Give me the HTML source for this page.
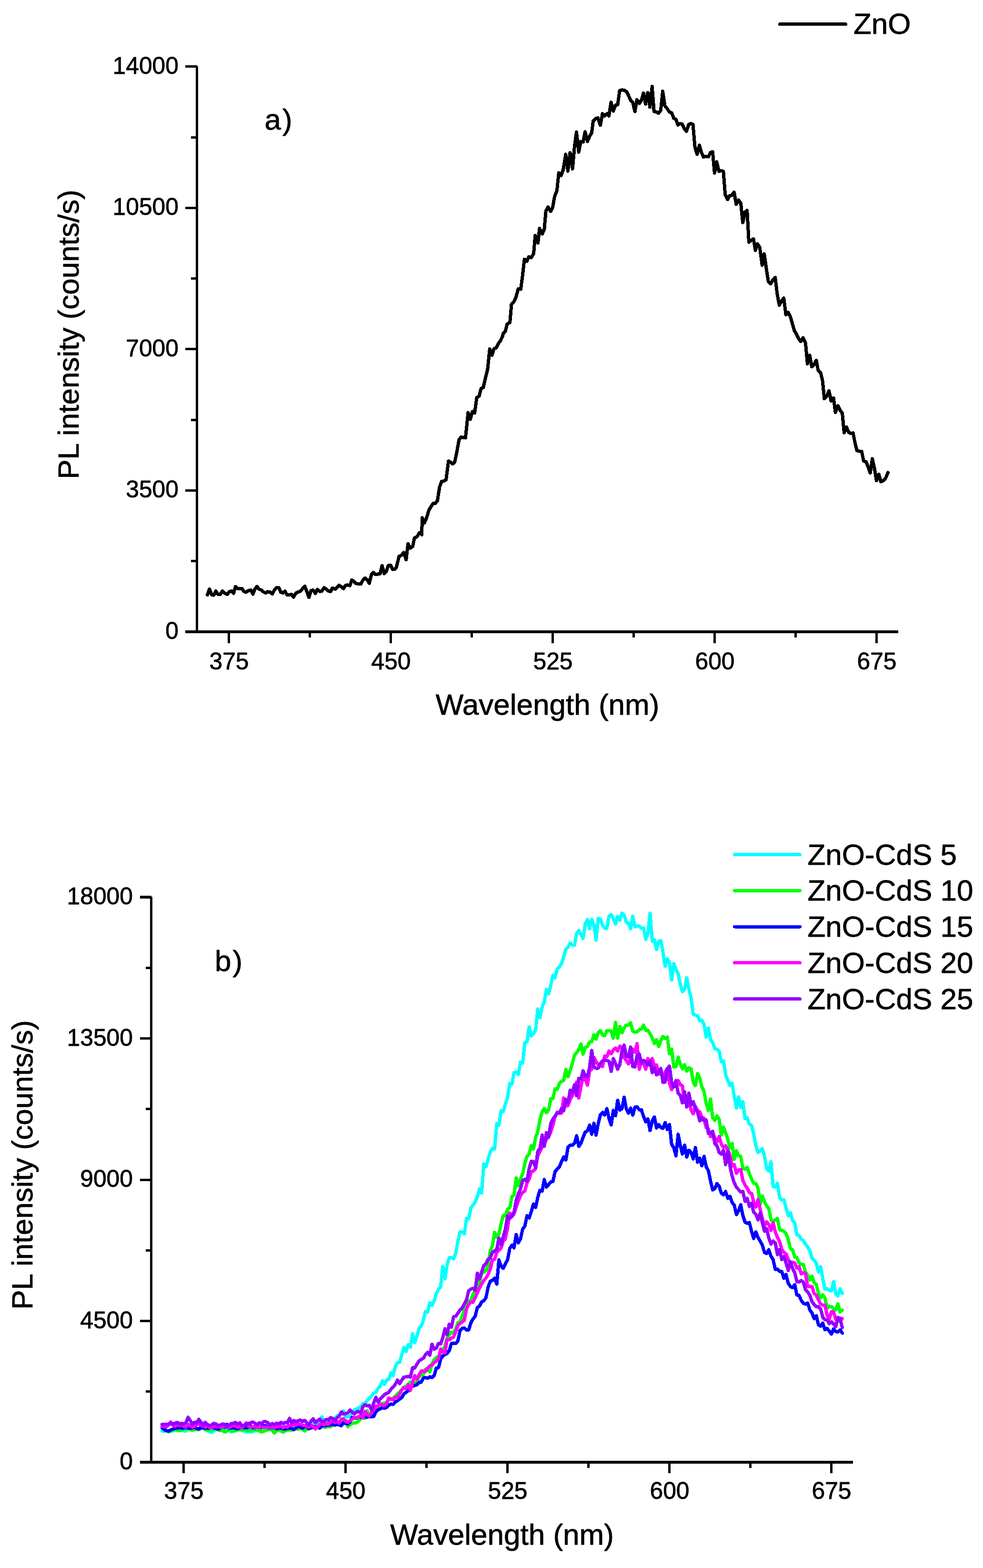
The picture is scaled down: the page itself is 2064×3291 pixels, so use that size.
<!DOCTYPE html>
<html lang="en"><head><meta charset="utf-8"><title>PL spectra of ZnO and ZnO-CdS</title>
<style>
html,body{margin:0;padding:0;background:#fff;}
body{width:2064px;height:3291px;overflow:hidden;font-family:'Liberation Sans', sans-serif;}
svg{display:block;}
</style></head>
<body>
<svg width="2064" height="3291" viewBox="0 0 2064 3291" font-family='"Liberation Sans", sans-serif' fill="#000">
<rect width="2064" height="3291" fill="#fff"/>
<g id="chart-a">
<polyline points="435.5,1248.5 439.8,1236.5 444.8,1248.5 448.8,1249.4 453.3,1240.5 457.7,1247.5 462.1,1247.5 467.0,1240.5 472.0,1245.1 477.1,1247.5 481.9,1241.5 486.5,1240.5 490.4,1245.5 494.4,1231.2 499.4,1235.6 503.7,1235.6 508.3,1235.6 512.3,1241.5 516.6,1243.1 521.6,1239.5 527.1,1238.5 531.1,1247.1 535.5,1235.6 539.6,1231.2 544.0,1236.5 549.0,1238.5 553.3,1242.5 557.9,1244.5 561.9,1241.9 566.8,1242.5 571.8,1246.5 576.7,1237.5 580.7,1233.2 585.7,1233.6 589.6,1243.1 594.0,1244.5 598.6,1240.5 602.5,1248.5 607.5,1248.5 612.1,1247.5 616.4,1253.4 621.4,1244.5 626.3,1242.5 631.3,1240.5 635.3,1235.6 639.8,1230.2 644.2,1241.5 648.6,1253.8 653.1,1239.5 657.5,1238.5 662.1,1245.5 666.6,1237.1 671.6,1241.5 676.0,1240.5 680.3,1233.6 684.9,1236.5 689.4,1240.5 694.2,1241.5 697.8,1234.6 700.0,1234.8 704.0,1236.7 707.9,1232.8 711.9,1228.4 716.9,1231.8 721.2,1235.2 725.8,1228.4 730.2,1227.8 734.7,1229.2 738.7,1217.3 743.3,1220.5 747.6,1224.8 752.6,1225.4 757.5,1225.8 761.9,1217.9 766.5,1213.3 771.0,1216.9 775.4,1224.4 779.8,1206.0 784.3,1201.4 788.9,1206.0 793.3,1205.0 798.2,1204.0 802.2,1187.1 806.7,1204.0 811.1,1199.0 815.1,1187.1 820.0,1186.2 824.6,1195.1 829.0,1194.5 831.9,1192.1 837.9,1167.7 842.9,1165.3 847.8,1159.8 852.8,1174.8 856.7,1141.1 861.7,1150.4 866.7,1146.5 870.2,1129.2 875.6,1126.6 880.6,1118.1 885.5,1122.1 886.6,1086.6 891.3,1097.3 895.8,1086.6 900.2,1071.6 904.9,1063.3 909.4,1056.7 913.8,1056.7 918.5,1050.9 923.0,1021.9 927.4,1010.2 931.9,1009.9 936.6,1006.9 941.7,967.9 945.5,969.6 950.2,973.7 954.7,970.4 959.1,948.9 963.8,923.1 968.3,917.3 972.7,918.2 977.4,919.0 982.9,865.9 987.5,880.0 992.0,863.9 996.6,866.7 1001.1,834.4 1005.8,831.9 1010.2,815.3 1014.7,813.6 1019.4,792.9 1023.8,775.5 1028.3,732.4 1033.0,745.6 1037.4,731.5 1041.9,730.2 1046.6,720.7 1051.0,714.9 1055.5,705.0 1056.6,699.9 1061.2,694.9 1064.9,680.0 1070.7,676.7 1074.0,638.5 1079.0,633.6 1083.5,623.6 1088.1,606.2 1093.4,607.0 1097.2,578.8 1101.1,544.0 1106.4,548.1 1110.5,539.0 1115.5,540.7 1120.5,532.4 1123.8,494.2 1129.6,510.0 1132.9,479.3 1138.7,490.9 1142.9,480.9 1146.2,442.8 1150.8,434.5 1156.1,443.6 1160.3,436.1 1164.4,412.9 1169.4,399.6 1173.3,362.8 1178.1,368.3 1182.6,356.3 1187.8,323.9 1192.4,359.1 1197.0,320.7 1202.2,354.4 1206.3,308.1 1210.4,277.0 1215.2,319.3 1219.6,297.0 1224.4,298.0 1228.5,276.7 1233.5,297.0 1238.1,285.9 1242.4,278.5 1245.6,253.5 1250.7,248.9 1255.4,247.4 1260.6,262.8 1265.0,238.7 1269.6,243.3 1274.3,238.7 1278.5,243.3 1283.1,214.6 1287.8,233.1 1292.4,220.7 1297.0,219.6 1301.1,190.0 1306.3,188.7 1310.9,189.6 1315.6,192.4 1320.2,201.7 1324.4,210.9 1328.5,214.6 1333.1,234.1 1337.4,209.6 1342.4,217.0 1347.0,210.0 1351.1,195.6 1355.4,218.3 1360.0,194.3 1364.6,224.8 1369.3,181.3 1373.3,234.1 1378.1,235.0 1382.6,237.8 1387.4,231.3 1391.5,191.5 1396.1,222.0 1400.7,227.6 1405.4,235.0 1410.4,236.9 1414.6,248.0 1419.3,250.7 1423.3,262.3 1427.8,259.2 1432.4,260.4 1436.8,270.1 1441.4,275.6 1445.9,261.5 1450.1,259.2 1455.0,261.0 1459.2,309.3 1463.8,323.9 1468.4,304.8 1472.9,320.3 1477.5,329.8 1483.0,328.0 1487.5,329.1 1491.5,320.3 1496.3,318.5 1500.3,363.2 1504.9,339.5 1509.4,359.5 1514.0,358.3 1518.9,359.5 1522.6,407.9 1527.7,418.8 1532.2,410.6 1536.8,409.7 1541.4,403.3 1545.9,428.9 1550.5,419.8 1555.4,426.1 1559.6,467.2 1564.2,445.3 1568.7,441.7 1572.4,508.3 1576.9,504.6 1582.1,501.3 1586.1,525.6 1590.6,511.9 1595.2,519.2 1600.3,556.6 1604.7,532.9 1608.9,563.0 1613.4,591.3 1618.0,595.9 1622.6,587.7 1627.7,582.2 1631.7,615.9 1636.3,640.6 1640.8,632.4 1645.7,625.6 1650.1,660.4 1654.8,655.7 1659.5,664.4 1663.5,678.4 1667.9,694.0 1672.2,701.0 1676.9,710.6 1681.5,716.7 1686.2,708.8 1691.4,720.2 1695.4,763.7 1700.1,745.8 1704.5,769.8 1709.3,765.5 1714.0,756.2 1717.9,777.7 1723.3,782.9 1727.1,799.4 1730.9,836.9 1735.8,831.7 1740.7,820.3 1745.0,841.6 1750.1,835.1 1754.1,865.6 1759.3,851.7 1764.0,861.3 1768.6,867.4 1772.4,908.3 1777.3,896.1 1782.0,907.4 1786.3,909.5 1791.2,908.8 1795.4,930.1 1799.4,945.8 1804.6,947.1 1809.3,947.5 1813.3,967.5 1818.6,969.3 1822.6,979.7 1827.3,992.8 1831.6,962.8 1836.0,982.3 1840.3,1008.8 1845.2,995.4 1849.6,1011.1 1855.1,1008.5 1859.8,1003.2 1864.4,991.9" fill="none" stroke="#000" stroke-width="7" stroke-linejoin="round" stroke-linecap="round" shape-rendering="crispEdges"/>
<rect x="411" y="139" width="5" height="1190" fill="#000"/>
<rect x="389" y="1323" width="1497" height="6" fill="#000"/>
<text transform="translate(375,1341) scale(1,1.0)" font-size="49.8" text-anchor="end" stroke="#000" stroke-width="0.8" stroke-linejoin="round">0</text>
<rect x="401" y="1175" width="11" height="5" fill="#000"/>
<rect x="389" y="1027" width="25" height="5" fill="#000"/>
<text transform="translate(375,1044.38) scale(1,1.0)" font-size="49.8" text-anchor="end" stroke="#000" stroke-width="0.8" stroke-linejoin="round">3500</text>
<rect x="401" y="879" width="11" height="5" fill="#000"/>
<rect x="389" y="730" width="25" height="5" fill="#000"/>
<text transform="translate(375,747.75) scale(1,1.0)" font-size="49.8" text-anchor="end" stroke="#000" stroke-width="0.8" stroke-linejoin="round">7000</text>
<rect x="401" y="582" width="11" height="5" fill="#000"/>
<rect x="389" y="434" width="25" height="5" fill="#000"/>
<text transform="translate(375,451.125) scale(1,1.0)" font-size="49.8" text-anchor="end" stroke="#000" stroke-width="0.8" stroke-linejoin="round">10500</text>
<rect x="401" y="286" width="11" height="5" fill="#000"/>
<rect x="389" y="137" width="25" height="5" fill="#000"/>
<text transform="translate(375,154.5) scale(1,1.0)" font-size="49.8" text-anchor="end" stroke="#000" stroke-width="0.8" stroke-linejoin="round">14000</text>
<rect x="478" y="1324" width="5" height="26" fill="#000"/>
<text transform="translate(481,1405) scale(1,1.0)" font-size="49.8" text-anchor="middle" stroke="#000" stroke-width="0.8" stroke-linejoin="round">375</text>
<rect x="648" y="1324" width="5" height="14" fill="#000"/>
<rect x="818" y="1324" width="5" height="26" fill="#000"/>
<text transform="translate(821,1405) scale(1,1.0)" font-size="49.8" text-anchor="middle" stroke="#000" stroke-width="0.8" stroke-linejoin="round">450</text>
<rect x="988" y="1324" width="5" height="14" fill="#000"/>
<rect x="1158" y="1324" width="5" height="26" fill="#000"/>
<text transform="translate(1161,1405) scale(1,1.0)" font-size="49.8" text-anchor="middle" stroke="#000" stroke-width="0.8" stroke-linejoin="round">525</text>
<rect x="1328" y="1324" width="5" height="14" fill="#000"/>
<rect x="1498" y="1324" width="5" height="26" fill="#000"/>
<text transform="translate(1501,1405) scale(1,1.0)" font-size="49.8" text-anchor="middle" stroke="#000" stroke-width="0.8" stroke-linejoin="round">600</text>
<rect x="1668" y="1324" width="5" height="14" fill="#000"/>
<rect x="1838" y="1324" width="5" height="26" fill="#000"/>
<text transform="translate(1841,1405) scale(1,1.0)" font-size="49.8" text-anchor="middle" stroke="#000" stroke-width="0.8" stroke-linejoin="round">675</text>
<text transform="translate(1149.5,1499.5) scale(1,1.0)" font-size="62" text-anchor="middle" stroke="#000" stroke-width="0.8" stroke-linejoin="round">Wavelength (nm)</text>
<text transform="translate(165,702) rotate(-90) scale(1,1.0)" font-size="62" text-anchor="middle" stroke="#000" stroke-width="0.8" stroke-linejoin="round">PL intensity (counts/s)</text>
<text transform="translate(555.5,272) scale(1,1.0)" font-size="62" text-anchor="start" letter-spacing="3" stroke="#000" stroke-width="0.8" stroke-linejoin="round">a)</text>
<line x1="1637.5" y1="50.5" x2="1775.5" y2="50.5" stroke="#000" stroke-width="7" stroke-linecap="round" shape-rendering="crispEdges"/>
<text transform="translate(1792,71) scale(1,1.0)" font-size="62" text-anchor="start" stroke="#000" stroke-width="0.8" stroke-linejoin="round">ZnO</text>
</g>
<g id="chart-b">
<polyline points="340.4,3003.7 344.9,3004.2 349.5,3002.8 354.0,3002.0 358.5,3002.8 363.1,3003.2 367.6,3001.2 372.1,3000.4 376.7,3001.2 381.2,3002.0 385.7,3002.8 390.3,3003.7 394.8,2988.8 399.3,3000.4 403.9,3001.2 408.4,2999.5 412.9,3000.4 417.5,2999.5 422.0,2998.7 426.5,2986.3 431.1,2999.5 435.6,3002.8 440.1,3005.3 444.7,3006.6 449.2,3002.8 453.7,3000.4 458.3,3001.2 462.8,3001.2 467.3,3000.4 471.9,3001.2 476.4,2999.5 480.9,3002.0 485.5,3005.8 490.0,3002.8 494.5,3001.2 499.1,3002.0 503.6,3001.2 508.1,3002.0 512.7,3003.7 517.2,3005.3 521.7,3004.5 526.3,3005.8 530.8,3004.8 535.3,3003.7 539.9,3001.2 544.4,3000.4 548.9,3001.2 553.5,3000.4 558.0,3001.2 562.5,3001.2 567.1,3000.4 571.6,3001.2 576.1,3000.3 580.7,2996.9 585.2,2997.7 589.7,2996.1 594.3,2996.9 598.8,2992.8 603.3,2996.1 607.9,2995.2 612.4,2994.4 616.9,2993.6 621.5,2994.4 626.0,2992.8 630.5,2993.6 635.1,2992.8 639.6,2991.1 644.1,2991.9 648.7,2991.1 653.2,2989.4 657.7,2986.1 662.3,2988.6 666.8,2986.1 671.3,2982.8 675.9,2973.7 680.4,2982.8 684.9,2982.0 689.5,2981.2 694.0,2979.5 698.5,2977.9 703.1,2977.0 707.6,2971.3 712.1,2970.4 716.7,2967.9 721.2,2961.3 725.7,2972.9 730.3,2973.7 734.8,2973.7 739.3,2966.3 743.9,2958.9 748.4,2958.0 752.9,2955.1 757.5,2952.2 762.0,2946.5 766.5,2944.8 771.1,2939.8 775.6,2934.9 780.1,2929.9 784.7,2924.1 789.2,2922.4 793.7,2914.3 798.3,2909.5 802.8,2898.4 807.3,2905.6 811.9,2896.0 816.4,2895.2 820.9,2881.0 825.5,2887.3 830.0,2868.3 834.5,2859.5 839.1,2859.5 843.6,2842.9 848.1,2827.8 852.7,2836.5 857.2,2822.2 861.7,2827.8 866.3,2799.2 870.8,2818.3 875.3,2804.8 879.9,2788.1 884.4,2783.3 888.9,2771.4 893.5,2752.4 898.0,2754.0 902.5,2734.1 907.1,2739.7 911.6,2730.2 916.1,2715.1 920.7,2706.3 925.2,2700.8 929.7,2657.9 934.3,2684.1 938.8,2654.0 943.3,2639.7 947.9,2639.7 952.4,2642.1 956.9,2630.2 961.5,2604.8 966.0,2585.7 970.5,2585.7 975.1,2589.7 979.6,2557.1 984.1,2558.7 988.7,2534.9 993.2,2529.4 997.7,2523.0 1002.3,2511.1 1006.8,2495.2 1011.3,2504.0 1015.9,2442.9 1020.4,2448.4 1024.9,2432.5 1029.5,2417.7 1034.0,2410.2 1038.5,2411.6 1043.1,2358.4 1047.6,2361.6 1052.1,2331.4 1056.7,2333.0 1061.2,2317.1 1065.7,2302.9 1070.3,2274.3 1074.8,2275.9 1079.3,2251.3 1083.9,2250.5 1088.4,2255.2 1092.9,2229.0 1097.5,2231.4 1102.0,2188.6 1106.5,2187.0 1111.1,2155.2 1115.6,2174.3 1120.1,2169.5 1124.7,2161.6 1129.2,2117.9 1133.7,2136.2 1138.3,2114.0 1142.8,2102.9 1147.3,2076.7 1151.9,2086.2 1156.4,2068.4 1160.9,2047.6 1165.5,2052.2 1170.0,2033.7 1174.5,2029.6 1179.1,2022.6 1183.6,2007.8 1188.1,1992.0 1192.7,1988.3 1197.2,1979.1 1201.7,1983.7 1206.3,1983.7 1210.8,1959.6 1215.3,1953.1 1219.9,1961.5 1224.4,1969.8 1228.9,1939.3 1233.5,1929.6 1238.0,1949.4 1242.5,1929.6 1247.1,1941.1 1251.6,1973.5 1256.1,1927.8 1260.7,1929.1 1265.2,1942.0 1269.7,1948.1 1274.3,1948.1 1278.8,1922.6 1283.3,1919.8 1287.9,1928.1 1292.4,1939.3 1296.9,1923.5 1301.5,1931.5 1306.0,1916.7 1310.5,1920.7 1315.1,1935.6 1319.6,1937.4 1324.1,1949.4 1328.7,1922.6 1333.2,1945.2 1337.7,1943.9 1342.3,1943.9 1346.8,1948.9 1351.3,1947.6 1355.9,1971.7 1360.4,1959.6 1364.9,1916.7 1369.5,1975.4 1374.0,1972.6 1378.5,1993.0 1383.1,1975.4 1387.6,1974.4 1392.1,1998.5 1396.7,2028.1 1401.2,2012.4 1405.7,2019.7 1410.3,2056.8 1414.8,2022.4 1419.3,2034.6 1423.9,2044.1 1428.4,2065.6 1432.9,2081.4 1437.5,2075.9 1442.0,2052.1 1446.5,2075.9 1451.1,2094.9 1455.6,2129.0 1460.1,2130.6 1464.7,2132.2 1469.2,2142.5 1473.7,2141.0 1478.3,2150.5 1482.8,2176.7 1487.3,2157.6 1491.9,2182.2 1496.4,2187.8 1500.9,2201.3 1505.5,2202.1 1510.0,2206.8 1514.5,2228.3 1519.1,2226.7 1523.6,2255.2 1528.1,2267.9 1532.7,2278.3 1537.2,2273.5 1541.7,2301.3 1546.3,2325.9 1550.8,2302.1 1555.3,2324.3 1559.9,2312.4 1564.4,2347.6 1568.9,2346.0 1573.5,2359.5 1578.0,2361.9 1582.5,2379.4 1587.1,2404.8 1591.6,2419.0 1596.1,2415.9 1600.7,2411.1 1605.2,2427.0 1609.7,2452.4 1614.3,2457.9 1618.8,2438.1 1623.3,2490.5 1627.9,2491.3 1632.4,2483.3 1636.9,2513.5 1641.5,2519.0 1646.0,2518.3 1650.5,2534.9 1655.1,2551.6 1659.6,2545.2 1664.1,2561.9 1668.7,2566.7 1673.2,2592.1 1677.7,2592.9 1682.3,2601.0 1686.8,2604.3 1691.3,2610.9 1695.9,2617.5 1700.4,2624.8 1704.9,2640.7 1709.5,2645.3 1714.0,2651.3 1718.5,2669.8 1723.1,2658.5 1727.6,2684.3 1732.1,2705.5 1736.7,2704.8 1741.2,2708.1 1745.7,2709.5 1750.3,2689.6 1754.8,2714.8 1759.3,2720.1 1763.9,2704.8 1768.4,2714.8" fill="none" stroke="#00ffff" stroke-width="7" stroke-linejoin="round" stroke-linecap="round" shape-rendering="crispEdges"/>
<polyline points="340.4,2997.9 344.9,2999.5 349.5,3002.0 354.0,3005.3 358.5,3003.7 363.1,3001.2 367.6,3000.4 372.1,3002.0 376.7,3002.8 381.2,3001.2 385.7,2999.5 390.3,2998.7 394.8,2999.5 399.3,3000.4 403.9,3002.0 408.4,3000.4 412.9,2999.5 417.5,3000.4 422.0,2997.9 426.5,2997.9 431.1,3000.4 435.6,3002.0 440.1,3001.2 444.7,3000.4 449.2,2999.5 453.7,2998.7 458.3,3001.2 462.8,3002.8 467.3,3002.0 471.9,3005.8 476.4,3003.7 480.9,3000.4 485.5,3001.2 490.0,3003.7 494.5,3002.8 499.1,3000.4 503.6,3000.4 508.1,3001.2 512.7,2999.5 517.2,3002.0 521.7,3002.8 526.3,3001.2 530.8,3000.4 535.3,3000.4 539.9,3001.2 544.4,3003.7 548.9,3005.3 553.5,3004.5 558.0,3002.0 562.5,3000.4 567.1,2999.5 571.6,3002.0 576.1,3007.9 580.7,3002.7 585.2,3001.0 589.7,3003.5 594.3,3006.0 598.8,3002.7 603.3,3001.8 607.9,3001.0 612.4,3001.8 616.9,2999.4 621.5,2998.5 626.0,2999.7 630.5,2997.7 635.1,2999.4 639.6,3003.5 644.1,2999.4 648.7,2996.9 653.2,2997.7 657.7,2996.1 662.3,2995.2 666.8,2994.4 671.3,2993.6 675.9,2993.6 680.4,2995.2 684.9,2995.2 689.5,2994.4 694.0,2994.4 698.5,2990.3 703.1,2987.8 707.6,2989.4 712.1,2988.6 716.7,2987.8 721.2,2986.1 725.7,2981.2 730.3,2994.4 734.8,2990.3 739.3,2987.8 743.9,2986.1 748.4,2986.1 752.9,2982.8 757.5,2977.9 762.0,2976.2 766.5,2977.0 771.1,2961.0 775.6,2969.6 780.1,2969.6 784.7,2967.9 789.2,2960.6 793.7,2955.3 798.3,2950.8 802.8,2946.0 807.3,2944.4 811.9,2943.7 816.4,2938.1 820.9,2936.5 825.5,2934.9 830.0,2930.2 834.5,2925.4 839.1,2922.2 843.6,2916.7 848.1,2911.1 852.7,2909.5 857.2,2904.8 861.7,2900.3 866.3,2900.0 870.8,2902.4 875.3,2900.8 879.9,2888.9 884.4,2885.7 888.9,2884.9 893.5,2873.8 898.0,2873.0 902.5,2879.4 907.1,2861.9 911.6,2854.0 916.1,2849.2 920.7,2847.6 925.2,2839.7 929.7,2834.9 934.3,2825.4 938.8,2807.9 943.3,2801.6 947.9,2796.0 952.4,2798.4 956.9,2788.9 961.5,2776.2 966.0,2773.8 970.5,2761.9 975.1,2747.6 979.6,2737.3 984.1,2731.7 988.7,2728.6 993.2,2715.9 997.7,2709.5 1002.3,2701.6 1006.8,2690.5 1011.3,2673.0 1015.9,2669.8 1020.4,2666.7 1024.9,2654.0 1029.5,2625.4 1034.0,2614.3 1038.5,2586.5 1043.1,2596.8 1047.6,2590.5 1052.1,2568.3 1056.7,2550.8 1061.2,2551.6 1065.7,2538.1 1070.3,2534.9 1074.8,2511.9 1079.3,2507.9 1083.9,2472.2 1088.4,2488.9 1092.9,2474.6 1097.5,2463.5 1102.0,2441.3 1106.5,2427.0 1111.1,2422.2 1115.6,2404.6 1120.1,2411.6 1124.7,2387.0 1129.2,2375.1 1133.7,2350.5 1138.3,2333.0 1142.8,2326.7 1147.3,2335.4 1151.9,2329.8 1156.4,2306.0 1160.9,2306.0 1165.5,2285.4 1170.0,2286.2 1174.5,2274.3 1179.1,2269.5 1183.6,2267.9 1188.1,2244.9 1192.7,2260.0 1197.2,2247.3 1201.7,2232.2 1206.3,2214.8 1210.8,2209.2 1215.3,2202.9 1219.9,2191.0 1224.4,2212.4 1228.9,2198.1 1233.5,2196.5 1238.0,2187.0 1242.5,2186.6 1247.1,2171.7 1251.6,2181.0 1256.1,2167.1 1260.7,2163.2 1265.2,2172.7 1269.7,2173.5 1274.3,2163.2 1278.8,2163.2 1283.3,2164.0 1287.9,2179.0 1292.4,2145.7 1296.9,2179.0 1301.5,2154.4 1306.0,2167.9 1310.5,2157.6 1315.1,2151.0 1319.6,2151.3 1324.1,2146.8 1328.7,2164.8 1333.2,2166.3 1337.7,2165.6 1342.3,2160.8 1346.8,2160.0 1351.3,2151.6 1355.9,2162.4 1360.4,2162.4 1364.9,2169.5 1369.5,2178.3 1374.0,2190.2 1378.5,2182.2 1383.1,2196.5 1387.6,2183.8 1392.1,2175.1 1396.7,2179.8 1401.2,2176.7 1405.7,2211.6 1410.3,2202.1 1414.8,2239.4 1419.3,2238.6 1423.9,2218.7 1428.4,2233.0 1432.9,2243.3 1437.5,2234.6 1442.0,2248.1 1446.5,2241.0 1451.1,2243.3 1455.6,2271.9 1460.1,2278.7 1464.7,2253.3 1469.2,2262.4 1473.7,2281.0 1478.3,2291.0 1482.8,2315.6 1487.3,2330.6 1491.9,2306.8 1496.4,2346.0 1500.9,2351.6 1505.5,2342.1 1510.0,2349.2 1514.5,2382.5 1519.1,2365.9 1523.6,2377.8 1528.1,2390.5 1532.7,2409.5 1537.2,2400.0 1541.7,2433.3 1546.3,2415.1 1550.8,2425.4 1555.3,2427.0 1559.9,2452.4 1564.4,2454.0 1568.9,2450.0 1573.5,2463.5 1578.0,2474.6 1582.5,2483.3 1587.1,2484.1 1591.6,2493.7 1596.1,2528.6 1600.7,2510.3 1605.2,2522.2 1609.7,2531.0 1614.3,2536.5 1618.8,2560.3 1623.3,2563.5 1627.9,2560.3 1632.4,2557.1 1636.9,2581.0 1641.5,2582.5 1646.0,2584.1 1650.5,2588.9 1655.1,2601.6 1659.6,2620.6 1664.1,2623.0 1668.7,2638.1 1673.2,2639.7 1677.7,2650.8 1682.3,2653.9 1686.8,2653.9 1691.3,2669.8 1695.9,2676.4 1700.4,2686.3 1704.9,2678.4 1709.5,2692.3 1714.0,2695.6 1718.5,2714.8 1723.1,2724.0 1727.6,2717.6 1732.1,2724.3 1736.7,2745.6 1741.2,2741.9 1745.7,2742.3 1750.3,2747.4 1754.8,2749.3 1759.3,2736.3 1763.9,2753.9 1768.4,2749.7" fill="none" stroke="#00ff00" stroke-width="7" stroke-linejoin="round" stroke-linecap="round" shape-rendering="crispEdges"/>
<polyline points="340.4,2996.2 344.9,3000.4 349.5,3002.8 354.0,3003.7 358.5,3001.2 363.1,2999.5 367.6,2997.0 372.1,2997.9 376.7,2995.4 381.2,2997.9 385.7,2997.0 390.3,2996.2 394.8,2997.0 399.3,2997.9 403.9,2997.0 408.4,2996.2 412.9,2997.9 417.5,2999.5 422.0,2996.2 426.5,2997.0 431.1,2997.0 435.6,2997.9 440.1,2997.0 444.7,2996.2 449.2,2997.0 453.7,2997.9 458.3,2999.5 462.8,2997.0 467.3,2992.9 471.9,2996.2 476.4,2989.6 480.9,2997.9 485.5,2997.0 490.0,2996.2 494.5,2997.9 499.1,2998.7 503.6,2996.2 508.1,2997.0 512.7,2996.2 517.2,2997.0 521.7,2995.4 526.3,2992.9 530.8,2997.0 535.3,2996.2 539.9,2995.4 544.4,2996.2 548.9,2996.2 553.5,2992.9 558.0,2992.1 562.5,2996.2 567.1,2996.2 571.6,2996.2 576.1,2997.0 580.7,2998.5 585.2,2997.7 589.7,2996.9 594.3,2998.5 598.8,2999.4 603.3,2997.7 607.9,2996.9 612.4,2997.7 616.9,3000.5 621.5,2996.9 626.0,2993.6 630.5,2995.2 635.1,2997.4 639.6,2994.4 644.1,2995.2 648.7,2999.0 653.2,2996.1 657.7,2995.2 662.3,2994.4 666.8,2994.4 671.3,2997.7 675.9,2992.8 680.4,2992.8 684.9,2991.9 689.5,2991.9 694.0,2989.4 698.5,2990.8 703.1,2991.1 707.6,2989.8 712.1,2990.3 716.7,2992.4 721.2,2986.1 725.7,2987.8 730.3,2988.6 734.8,2984.5 739.3,2975.4 743.9,2977.0 748.4,2976.2 752.9,2973.2 757.5,2974.6 762.0,2972.9 766.5,2973.7 771.1,2974.2 775.6,2972.9 780.1,2973.7 784.7,2972.9 789.2,2962.9 793.7,2958.8 798.3,2957.2 802.8,2954.8 807.3,2955.6 811.9,2954.0 816.4,2949.2 820.9,2946.8 825.5,2947.6 830.0,2942.9 834.5,2939.7 839.1,2936.5 843.6,2933.3 848.1,2925.4 852.7,2922.2 857.2,2919.0 861.7,2914.3 866.3,2909.5 870.8,2907.9 875.3,2906.3 879.9,2901.6 884.4,2900.8 888.9,2892.1 893.5,2891.3 898.0,2892.9 902.5,2889.7 907.1,2891.3 911.6,2887.3 916.1,2871.4 920.7,2870.6 925.2,2852.4 929.7,2846.0 934.3,2842.9 938.8,2840.5 943.3,2834.9 947.9,2819.8 952.4,2819.0 956.9,2819.8 961.5,2814.3 966.0,2792.1 970.5,2788.1 975.1,2787.3 979.6,2791.3 984.1,2791.3 988.7,2776.2 993.2,2768.3 997.7,2762.7 1002.3,2744.4 1006.8,2741.3 1011.3,2732.5 1015.9,2730.2 1020.4,2723.8 1024.9,2701.6 1029.5,2688.9 1034.0,2687.3 1038.5,2682.5 1043.1,2695.2 1047.6,2644.4 1052.1,2657.1 1056.7,2661.9 1061.2,2652.4 1065.7,2644.4 1070.3,2620.6 1074.8,2613.5 1079.3,2619.0 1083.9,2591.3 1088.4,2608.7 1092.9,2600.0 1097.5,2579.4 1102.0,2573.8 1106.5,2551.6 1111.1,2556.3 1115.6,2542.9 1120.1,2527.0 1124.7,2534.1 1129.2,2512.7 1133.7,2498.4 1138.3,2500.0 1142.8,2475.9 1147.3,2491.7 1151.9,2486.2 1156.4,2480.6 1160.9,2479.8 1165.5,2459.2 1170.0,2453.7 1174.5,2448.9 1179.1,2437.8 1183.6,2428.3 1188.1,2434.6 1192.7,2407.6 1197.2,2403.7 1201.7,2403.7 1206.3,2399.7 1210.8,2383.8 1215.3,2406.0 1219.9,2399.7 1224.4,2387.0 1228.9,2375.9 1233.5,2373.5 1238.0,2361.6 1242.5,2380.6 1247.1,2357.6 1251.6,2382.2 1256.1,2358.4 1260.7,2339.5 1265.2,2334.8 1269.7,2340.3 1274.3,2326.8 1278.8,2347.5 1283.3,2361.0 1287.9,2330.8 1292.4,2341.9 1296.9,2309.4 1301.5,2330.0 1306.0,2326.8 1310.5,2303.0 1315.1,2327.6 1319.6,2336.3 1324.1,2326.0 1328.7,2340.3 1333.2,2323.7 1337.7,2322.9 1342.3,2329.2 1346.8,2329.2 1351.3,2343.5 1355.9,2354.6 1360.4,2348.3 1364.9,2372.9 1369.5,2353.0 1374.0,2344.3 1378.5,2367.3 1383.1,2360.2 1387.6,2366.5 1392.1,2368.1 1396.7,2356.2 1401.2,2370.5 1405.7,2360.2 1410.3,2402.2 1414.8,2408.6 1419.3,2426.0 1423.9,2380.8 1428.4,2403.8 1432.9,2422.1 1437.5,2403.8 1442.0,2428.4 1446.5,2414.1 1451.1,2418.9 1455.6,2432.4 1460.1,2408.6 1464.7,2439.5 1469.2,2431.0 1473.7,2446.8 1478.3,2427.0 1482.8,2448.4 1487.3,2457.1 1491.9,2478.6 1496.4,2497.6 1500.9,2494.4 1505.5,2484.1 1510.0,2489.7 1514.5,2504.0 1519.1,2507.9 1523.6,2500.8 1528.1,2515.1 1532.7,2511.1 1537.2,2523.8 1541.7,2529.4 1546.3,2549.2 1550.8,2541.3 1555.3,2528.6 1559.9,2551.6 1564.4,2565.1 1568.9,2567.5 1573.5,2565.9 1578.0,2584.1 1582.5,2599.2 1587.1,2585.7 1591.6,2597.6 1596.1,2604.8 1600.7,2613.5 1605.2,2628.6 1609.7,2631.0 1614.3,2623.0 1618.8,2636.5 1623.3,2643.7 1627.9,2664.3 1632.4,2663.5 1636.9,2668.3 1641.5,2669.0 1646.0,2683.0 1650.5,2675.1 1655.1,2693.6 1659.6,2700.2 1664.1,2702.9 1668.7,2696.2 1673.2,2718.1 1677.7,2718.7 1682.3,2729.3 1686.8,2735.4 1691.3,2737.2 1695.9,2734.9 1700.4,2749.3 1704.9,2755.7 1709.5,2767.8 1714.0,2761.3 1718.5,2780.7 1723.1,2783.5 1727.6,2777.0 1732.1,2790.9 1736.7,2788.1 1741.2,2793.7 1745.7,2800.0 1750.3,2789.5 1754.8,2794.6 1759.3,2795.6 1763.9,2791.4 1768.4,2797.9" fill="none" stroke="#0000ff" stroke-width="7" stroke-linejoin="round" stroke-linecap="round" shape-rendering="crispEdges"/>
<polyline points="340.4,2993.4 344.9,2994.2 349.5,2994.2 354.0,2991.8 358.5,2984.3 363.1,2991.8 367.6,2993.4 372.1,2990.1 376.7,2991.8 381.2,2987.1 385.7,2993.4 390.3,2995.1 394.8,2990.1 399.3,2991.8 403.9,2995.1 408.4,2994.2 412.9,2990.1 417.5,2988.4 422.0,2991.8 426.5,2993.4 431.1,2995.1 435.6,2990.1 440.1,2995.9 444.7,2996.7 449.2,2992.6 453.7,2995.1 458.3,2993.4 462.8,2995.9 467.3,2995.1 471.9,2994.2 476.4,2995.1 480.9,2996.7 485.5,2993.4 490.0,2991.8 494.5,2992.6 499.1,2995.9 503.6,2994.2 508.1,2996.7 512.7,2991.8 517.2,2986.3 521.7,2993.4 526.3,2995.9 530.8,2994.2 535.3,2995.1 539.9,2995.1 544.4,2996.7 548.9,2993.4 553.5,2995.9 558.0,2995.1 562.5,2995.9 567.1,2995.1 571.6,2995.1 576.1,2996.4 580.7,2995.2 585.2,2994.4 589.7,2993.6 594.3,2996.1 598.8,2994.4 603.3,2995.2 607.9,2991.1 612.4,2992.8 616.9,2989.4 621.5,2991.1 626.0,2988.6 630.5,2989.4 635.1,2991.1 639.6,2991.9 644.1,2994.4 648.7,2995.2 653.2,2991.9 657.7,2993.6 662.3,2999.4 666.8,2995.2 671.3,2989.4 675.9,2987.8 680.4,2990.3 684.9,2988.6 689.5,2989.4 694.0,2984.5 698.5,2983.7 703.1,2985.3 707.6,2983.7 712.1,2987.0 716.7,2978.7 721.2,2977.9 725.7,2983.7 730.3,2985.3 734.8,2982.0 739.3,2978.7 743.9,2974.6 748.4,2977.0 752.9,2973.7 757.5,2971.3 762.0,2975.4 766.5,2962.2 771.1,2969.6 775.6,2971.3 780.1,2964.6 784.7,2959.7 789.2,2951.5 793.7,2950.7 798.3,2946.6 802.8,2949.2 807.3,2950.8 811.9,2945.2 816.4,2934.1 820.9,2936.5 825.5,2938.1 830.0,2932.5 834.5,2933.3 839.1,2925.4 843.6,2917.5 848.1,2912.7 852.7,2915.1 857.2,2906.3 861.7,2918.3 866.3,2901.6 870.8,2887.3 875.3,2894.4 879.9,2884.9 884.4,2877.8 888.9,2877.0 893.5,2878.6 898.0,2871.4 902.5,2866.7 907.1,2865.1 911.6,2860.3 916.1,2856.3 920.7,2852.4 925.2,2831.7 929.7,2837.3 934.3,2839.7 938.8,2811.1 943.3,2811.9 947.9,2808.7 952.4,2806.3 956.9,2795.2 961.5,2782.5 966.0,2777.8 970.5,2774.6 975.1,2770.6 979.6,2747.6 984.1,2738.1 988.7,2732.5 993.2,2733.3 997.7,2723.8 1002.3,2713.5 1006.8,2703.2 1011.3,2695.2 1015.9,2687.3 1020.4,2682.5 1024.9,2674.6 1029.5,2663.5 1034.0,2644.4 1038.5,2642.9 1043.1,2628.6 1047.6,2623.8 1052.1,2619.0 1056.7,2604.8 1061.2,2600.0 1065.7,2577.8 1070.3,2546.0 1074.8,2554.0 1079.3,2547.6 1083.9,2533.3 1088.4,2520.6 1092.9,2509.5 1097.5,2502.4 1102.0,2500.0 1106.5,2482.5 1111.1,2474.6 1115.6,2459.5 1120.1,2457.9 1124.7,2452.4 1129.2,2425.4 1133.7,2416.5 1138.3,2407.6 1142.8,2401.3 1147.3,2391.7 1151.9,2385.4 1156.4,2375.9 1160.9,2361.6 1165.5,2344.1 1170.0,2334.6 1174.5,2336.2 1179.1,2336.2 1183.6,2304.4 1188.1,2321.9 1192.7,2320.3 1197.2,2307.6 1201.7,2299.7 1206.3,2288.6 1210.8,2271.1 1215.3,2304.4 1219.9,2280.6 1224.4,2258.4 1228.9,2264.8 1233.5,2277.5 1238.0,2247.3 1242.5,2244.5 1247.1,2219.1 1251.6,2227.9 1256.1,2235.0 1260.7,2237.0 1265.2,2238.6 1269.7,2216.3 1274.3,2217.9 1278.8,2206.0 1283.3,2211.6 1287.9,2203.7 1292.4,2199.7 1296.9,2206.0 1301.5,2195.7 1306.0,2198.9 1310.5,2219.5 1315.1,2225.9 1319.6,2233.0 1324.1,2221.1 1328.7,2202.1 1333.2,2208.4 1337.7,2190.2 1342.3,2244.1 1346.8,2225.9 1351.3,2232.2 1355.9,2244.1 1360.4,2221.9 1364.9,2228.3 1369.5,2221.9 1374.0,2237.0 1378.5,2235.4 1383.1,2254.4 1387.6,2252.9 1392.1,2262.4 1396.7,2249.7 1401.2,2242.5 1405.7,2273.5 1410.3,2287.0 1414.8,2276.7 1419.3,2270.3 1423.9,2267.9 1428.4,2276.7 1432.9,2279.0 1437.5,2314.0 1442.0,2309.2 1446.5,2309.2 1451.1,2329.8 1455.6,2337.8 1460.1,2321.9 1464.7,2331.7 1469.2,2333.3 1473.7,2344.4 1478.3,2347.6 1482.8,2366.7 1487.3,2369.8 1491.9,2385.7 1496.4,2376.2 1500.9,2388.9 1505.5,2396.8 1510.0,2385.7 1514.5,2401.6 1519.1,2407.9 1523.6,2404.8 1528.1,2414.3 1532.7,2423.8 1537.2,2447.6 1541.7,2444.4 1546.3,2462.7 1550.8,2455.6 1555.3,2454.8 1559.9,2477.8 1564.4,2487.3 1568.9,2493.7 1573.5,2503.2 1578.0,2504.8 1582.5,2522.2 1587.1,2533.3 1591.6,2517.5 1596.1,2538.1 1600.7,2557.1 1605.2,2573.0 1609.7,2564.3 1614.3,2569.8 1618.8,2582.5 1623.3,2566.7 1627.9,2585.7 1632.4,2596.8 1636.9,2605.6 1641.5,2622.2 1646.0,2628.6 1650.5,2631.7 1655.1,2642.9 1659.6,2652.4 1664.1,2649.2 1668.7,2650.8 1673.2,2661.9 1677.7,2658.7 1682.3,2673.8 1686.8,2671.1 1691.3,2673.1 1695.9,2700.2 1700.4,2700.9 1704.9,2700.2 1709.5,2714.8 1714.0,2718.7 1718.5,2728.4 1723.1,2737.2 1727.6,2739.1 1732.1,2739.1 1736.7,2760.4 1741.2,2768.7 1745.7,2753.0 1750.3,2753.9 1754.8,2768.7 1759.3,2765.0 1763.9,2773.3 1768.4,2767.3" fill="none" stroke="#ff00ff" stroke-width="7" stroke-linejoin="round" stroke-linecap="round" shape-rendering="crispEdges"/>
<polyline points="340.4,2989.6 344.9,2989.6 349.5,2989.3 354.0,2988.8 358.5,2987.9 363.1,2988.3 367.6,2987.1 372.1,2985.5 376.7,2987.9 381.2,2988.8 385.7,2988.3 390.3,2986.3 394.8,2974.7 399.3,2981.3 403.9,2989.6 408.4,2985.0 412.9,2986.3 417.5,2978.9 422.0,2985.5 426.5,2991.3 431.1,2985.5 435.6,2989.6 440.1,2992.9 444.7,2990.4 449.2,2987.1 453.7,2988.8 458.3,2992.1 462.8,2991.3 467.3,2988.8 471.9,2989.6 476.4,2994.6 480.9,2991.3 485.5,2987.9 490.0,2987.1 494.5,2985.5 499.1,2988.8 503.6,2986.3 508.1,2992.9 512.7,2991.3 517.2,2989.6 521.7,2987.9 526.3,2986.3 530.8,2984.6 535.3,2987.1 539.9,2990.4 544.4,2986.3 548.9,2989.6 553.5,2983.8 558.0,2983.8 562.5,2986.3 567.1,2991.3 571.6,2987.9 576.1,2990.4 580.7,2987.0 585.2,2988.6 589.7,2985.3 594.3,2987.8 598.8,2985.3 603.3,2986.1 607.9,2977.0 612.4,2986.1 616.9,2981.2 621.5,2983.7 626.0,2982.0 630.5,2980.4 635.1,2983.7 639.6,2981.2 644.1,2986.1 648.7,2991.1 653.2,2982.0 657.7,2977.9 662.3,2986.1 666.8,2982.0 671.3,2978.7 675.9,2983.7 680.4,2982.8 684.9,2979.5 689.5,2980.4 694.0,2975.4 698.5,2977.0 703.1,2982.0 707.6,2976.2 712.1,2972.1 716.7,2963.3 721.2,2967.9 725.7,2967.1 730.3,2965.5 734.8,2959.4 739.3,2963.8 743.9,2967.1 748.4,2963.8 752.9,2962.2 757.5,2966.3 762.0,2952.2 766.5,2948.1 771.1,2950.6 775.6,2949.8 780.1,2959.7 784.7,2944.8 789.2,2932.7 793.7,2943.0 798.3,2936.1 802.8,2931.7 807.3,2927.0 811.9,2924.6 816.4,2922.2 820.9,2915.9 825.5,2911.1 830.0,2905.6 834.5,2896.5 839.1,2904.0 843.6,2896.8 848.1,2890.5 852.7,2889.7 857.2,2888.9 861.7,2890.5 866.3,2870.6 870.8,2871.4 875.3,2863.5 879.9,2856.3 884.4,2853.2 888.9,2850.8 893.5,2842.9 898.0,2838.1 902.5,2844.4 907.1,2821.4 911.6,2831.7 916.1,2829.4 920.7,2819.8 925.2,2820.6 929.7,2807.9 934.3,2788.9 938.8,2801.6 943.3,2779.4 947.9,2785.7 952.4,2763.5 956.9,2762.7 961.5,2756.3 966.0,2749.2 970.5,2745.2 975.1,2736.5 979.6,2727.8 984.1,2709.5 988.7,2705.6 993.2,2704.0 997.7,2708.7 1002.3,2672.2 1006.8,2684.1 1011.3,2669.8 1015.9,2656.3 1020.4,2652.4 1024.9,2642.9 1029.5,2639.7 1034.0,2628.6 1038.5,2625.4 1043.1,2622.2 1047.6,2598.4 1052.1,2612.7 1056.7,2595.2 1061.2,2579.4 1065.7,2552.4 1070.3,2557.1 1074.8,2551.6 1079.3,2544.4 1083.9,2519.0 1088.4,2505.6 1092.9,2495.2 1097.5,2477.8 1102.0,2475.4 1106.5,2479.4 1111.1,2452.4 1115.6,2437.3 1120.1,2438.1 1124.7,2450.8 1129.2,2415.9 1133.7,2410.8 1138.3,2382.2 1142.8,2406.0 1147.3,2377.5 1151.9,2387.0 1156.4,2358.4 1160.9,2348.9 1165.5,2342.5 1170.0,2335.4 1174.5,2336.2 1179.1,2326.7 1183.6,2331.4 1188.1,2307.6 1192.7,2314.0 1197.2,2288.6 1201.7,2293.3 1206.3,2276.7 1210.8,2299.7 1215.3,2263.2 1219.9,2264.8 1224.4,2247.3 1228.9,2258.4 1233.5,2260.0 1238.0,2239.4 1242.5,2204.8 1247.1,2239.4 1251.6,2242.1 1256.1,2242.1 1260.7,2231.4 1265.2,2226.7 1269.7,2224.3 1274.3,2225.9 1278.8,2227.5 1283.3,2248.9 1287.9,2221.9 1292.4,2232.2 1296.9,2244.1 1301.5,2233.8 1306.0,2205.2 1310.5,2193.3 1315.1,2217.1 1319.6,2218.7 1324.1,2197.6 1328.7,2238.6 1333.2,2239.4 1337.7,2214.8 1342.3,2212.4 1346.8,2231.4 1351.3,2225.9 1355.9,2227.5 1360.4,2235.4 1364.9,2227.5 1369.5,2251.3 1374.0,2241.7 1378.5,2256.0 1383.1,2249.7 1387.6,2242.5 1392.1,2271.9 1396.7,2271.1 1401.2,2243.3 1405.7,2237.8 1410.3,2271.9 1414.8,2281.4 1419.3,2267.9 1423.9,2294.9 1428.4,2298.9 1432.9,2314.8 1437.5,2291.7 1442.0,2323.5 1446.5,2294.1 1451.1,2318.7 1455.6,2312.4 1460.1,2326.7 1464.7,2334.1 1469.2,2352.4 1473.7,2346.8 1478.3,2352.4 1482.8,2350.8 1487.3,2378.6 1491.9,2377.0 1496.4,2374.6 1500.9,2400.0 1505.5,2404.8 1510.0,2419.0 1514.5,2422.2 1519.1,2414.3 1523.6,2444.4 1528.1,2415.9 1532.7,2447.6 1537.2,2468.3 1541.7,2482.5 1546.3,2492.1 1550.8,2496.8 1555.3,2501.6 1559.9,2500.8 1564.4,2521.4 1568.9,2515.1 1573.5,2532.5 1578.0,2525.4 1582.5,2544.4 1587.1,2548.4 1591.6,2560.3 1596.1,2546.0 1600.7,2566.7 1605.2,2584.1 1609.7,2578.6 1614.3,2598.4 1618.8,2611.1 1623.3,2604.8 1627.9,2608.7 1632.4,2633.3 1636.9,2622.2 1641.5,2643.7 1646.0,2637.3 1650.5,2650.8 1655.1,2666.7 1659.6,2648.4 1664.1,2661.9 1668.7,2671.4 1673.2,2689.6 1677.7,2691.0 1682.3,2687.6 1686.8,2691.0 1691.3,2706.8 1695.9,2711.5 1700.4,2718.7 1704.9,2731.6 1709.5,2738.1 1714.0,2742.8 1718.5,2742.8 1723.1,2747.4 1727.6,2765.0 1732.1,2769.6 1736.7,2770.6 1741.2,2778.0 1745.7,2774.3 1750.3,2778.9 1754.8,2784.4 1759.3,2766.9 1763.9,2766.9 1768.4,2786.3" fill="none" stroke="#9500ff" stroke-width="7" stroke-linejoin="round" stroke-linecap="round" shape-rendering="crispEdges"/>
<rect x="315" y="1882.5" width="5" height="1189.5" fill="#000"/>
<rect x="294" y="3066" width="1497" height="6" fill="#000"/>
<text transform="translate(279,3084) scale(1,1.0)" font-size="49.8" text-anchor="end" stroke="#000" stroke-width="0.8" stroke-linejoin="round">0</text>
<rect x="306" y="2918" width="10" height="5" fill="#000"/>
<rect x="294" y="2770" width="24" height="5" fill="#000"/>
<text transform="translate(279,2787.5) scale(1,1.0)" font-size="49.8" text-anchor="end" stroke="#000" stroke-width="0.8" stroke-linejoin="round">4500</text>
<rect x="306" y="2622" width="10" height="5" fill="#000"/>
<rect x="294" y="2474" width="24" height="5" fill="#000"/>
<text transform="translate(279,2491) scale(1,1.0)" font-size="49.8" text-anchor="end" stroke="#000" stroke-width="0.8" stroke-linejoin="round">9000</text>
<rect x="306" y="2325" width="10" height="5" fill="#000"/>
<rect x="294" y="2177" width="24" height="5" fill="#000"/>
<text transform="translate(279,2194.5) scale(1,1.0)" font-size="49.8" text-anchor="end" stroke="#000" stroke-width="0.8" stroke-linejoin="round">13500</text>
<rect x="306" y="2029" width="10" height="5" fill="#000"/>
<rect x="294" y="1880" width="24" height="6" fill="#000"/>
<text transform="translate(279,1898) scale(1,1.0)" font-size="49.8" text-anchor="end" stroke="#000" stroke-width="0.8" stroke-linejoin="round">18000</text>
<rect x="383" y="3067" width="5" height="25" fill="#000"/>
<text transform="translate(386,3146) scale(1,1.0)" font-size="49.8" text-anchor="middle" stroke="#000" stroke-width="0.8" stroke-linejoin="round">375</text>
<rect x="553" y="3067" width="5" height="14" fill="#000"/>
<rect x="723" y="3067" width="5" height="25" fill="#000"/>
<text transform="translate(726,3146) scale(1,1.0)" font-size="49.8" text-anchor="middle" stroke="#000" stroke-width="0.8" stroke-linejoin="round">450</text>
<rect x="893" y="3067" width="5" height="14" fill="#000"/>
<rect x="1063" y="3067" width="5" height="25" fill="#000"/>
<text transform="translate(1066,3146) scale(1,1.0)" font-size="49.8" text-anchor="middle" stroke="#000" stroke-width="0.8" stroke-linejoin="round">525</text>
<rect x="1233" y="3067" width="5" height="14" fill="#000"/>
<rect x="1403" y="3067" width="5" height="25" fill="#000"/>
<text transform="translate(1406,3146) scale(1,1.0)" font-size="49.8" text-anchor="middle" stroke="#000" stroke-width="0.8" stroke-linejoin="round">600</text>
<rect x="1573" y="3067" width="5" height="14" fill="#000"/>
<rect x="1743" y="3067" width="5" height="25" fill="#000"/>
<text transform="translate(1746,3146) scale(1,1.0)" font-size="49.8" text-anchor="middle" stroke="#000" stroke-width="0.8" stroke-linejoin="round">675</text>
<text transform="translate(1054,3242) scale(1,1.0)" font-size="62" text-anchor="middle" stroke="#000" stroke-width="0.8" stroke-linejoin="round">Wavelength (nm)</text>
<text transform="translate(68,2445) rotate(-90) scale(1,1.0)" font-size="62" text-anchor="middle" stroke="#000" stroke-width="0.8" stroke-linejoin="round">PL intensity (counts/s)</text>
<text transform="translate(451,2038) scale(1,1.0)" font-size="62" text-anchor="start" letter-spacing="3" stroke="#000" stroke-width="0.8" stroke-linejoin="round">b)</text>
<line x1="1542.5" y1="1793.50" x2="1679.5" y2="1793.50" stroke="#00ffff" stroke-width="7" stroke-linecap="round" shape-rendering="crispEdges"/>
<text transform="translate(1695.5,1814.5) scale(1,1.0)" font-size="62" text-anchor="start" stroke="#000" stroke-width="0.8" stroke-linejoin="round">ZnO-CdS 5</text>
<line x1="1542.5" y1="1869.25" x2="1679.5" y2="1869.25" stroke="#00ff00" stroke-width="7" stroke-linecap="round" shape-rendering="crispEdges"/>
<text transform="translate(1695.5,1890.25) scale(1,1.0)" font-size="62" text-anchor="start" stroke="#000" stroke-width="0.8" stroke-linejoin="round">ZnO-CdS 10</text>
<line x1="1542.5" y1="1945.00" x2="1679.5" y2="1945.00" stroke="#0000ff" stroke-width="7" stroke-linecap="round" shape-rendering="crispEdges"/>
<text transform="translate(1695.5,1966) scale(1,1.0)" font-size="62" text-anchor="start" stroke="#000" stroke-width="0.8" stroke-linejoin="round">ZnO-CdS 15</text>
<line x1="1542.5" y1="2020.75" x2="1679.5" y2="2020.75" stroke="#ff00ff" stroke-width="7" stroke-linecap="round" shape-rendering="crispEdges"/>
<text transform="translate(1695.5,2041.75) scale(1,1.0)" font-size="62" text-anchor="start" stroke="#000" stroke-width="0.8" stroke-linejoin="round">ZnO-CdS 20</text>
<line x1="1542.5" y1="2096.50" x2="1679.5" y2="2096.50" stroke="#9500ff" stroke-width="7" stroke-linecap="round" shape-rendering="crispEdges"/>
<text transform="translate(1695.5,2117.5) scale(1,1.0)" font-size="62" text-anchor="start" stroke="#000" stroke-width="0.8" stroke-linejoin="round">ZnO-CdS 25</text>
</g>
</svg>
</body></html>
